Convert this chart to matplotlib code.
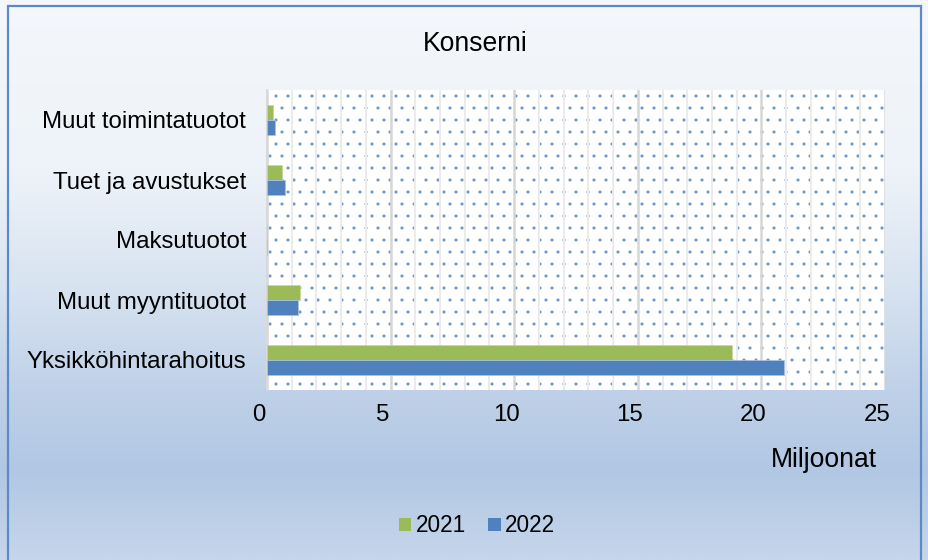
import numpy as np
import matplotlib
matplotlib.use("Agg")
import matplotlib.pyplot as plt
import matplotlib.transforms as mtransforms
from matplotlib.colors import LinearSegmentedColormap
from matplotlib.patches import Rectangle, Patch

plt.rcParams['font.family'] = ['Liberation Sans', 'DejaVu Sans']
plt.rcParams['hatch.linewidth'] = 0.6

# data (bottom -> top, as in the chart)
categories = ['Yksikköhintarahoitus', 'Muut myyntituotot', 'Maksutuotot',
              'Tuet ja avustukset', 'Muut toimintatuotot']
v2021 = [18.8, 1.34, 0.0, 0.61, 0.26]
v2022 = [20.9, 1.25, 0.0, 0.74, 0.34]
years = ['2021', '2022']
xticks = [0, 5, 10, 15, 20, 25]

green = '#9BBB59'
blue = '#4F81BD'

DPI = 72
fig = plt.figure(figsize=(928 / DPI, 560 / DPI), dpi=DPI)

# background gradient over the whole figure
bg = fig.add_axes([0, 0, 1, 1], zorder=-10)
bg.set_axis_off()
cmap = LinearSegmentedColormap.from_list('bg', [
    (0.0, '#F4F7FB'), (0.30, '#EEF3F9'), (0.50, '#D9E4F1'),
    (0.70, '#BFD1E8'), (0.84, '#B1C7E3'), (1.0, '#C6D6EB')])
grad = np.linspace(0, 1, 256).reshape(-1, 1)
bg.imshow(grad, aspect='auto', cmap=cmap, extent=[0, 1, 0, 1], origin='upper')
bg.set_xlim(0, 1)
bg.set_ylim(0, 1)
bg.add_patch(Rectangle((8 / 928, -0.05), (921 - 8) / 928, 1.05 - 6 / 560,
                       transform=bg.transAxes, fill=False,
                       edgecolor='#5B8ACB', lw=2.2))

# plot area
L, R, T, B = 267, 885, 90, 390
ax = fig.add_axes([L / 928, 1 - B / 560, (R - L) / 928, (B - T) / 560])
ax.set_facecolor('white')
ax.add_patch(Rectangle((0, 0), 1, 1, transform=ax.transAxes, facecolor='white',
                       hatch='.', edgecolor='#6A94C8', lw=0, zorder=0))

y = np.arange(len(categories))
h = 0.25
ax.barh(y + h / 2, v2021, height=h, color=green, edgecolor='#C5DA9A', lw=0.8, zorder=3)
ax.barh(y - h / 2, v2022, height=h, color=blue, edgecolor='#A9C2E2', lw=0.8, zorder=3)

ax.set_xlim(0, 25)
ax.set_ylim(-0.5, len(categories) - 0.5)
ax.set_xticks(xticks)
ax.set_xticks(np.arange(0, 26, 1), minor=True)
ax.grid(axis='x', which='minor', color='#EBEBEB', lw=2, zorder=1)
ax.grid(axis='x', which='major', color='#D6D6D6', lw=2.5, zorder=1)
ax.set_axisbelow(True)
ax.set_yticks(y)
ax.set_yticklabels(categories)
ax.tick_params(axis='both', which='both', length=0, labelsize=24)
ax.tick_params(axis='x', pad=14)
ax.tick_params(axis='y', pad=21)
off = mtransforms.ScaledTranslation(-8 / DPI, 0, fig.dpi_scale_trans)
for lab in ax.get_xticklabels():
    lab.set_transform(lab.get_transform() + off)
for s in ['top', 'right', 'bottom']:
    ax.spines[s].set_visible(False)
ax.spines['left'].set_color('#D9D9D9')
ax.spines['left'].set_linewidth(2)

fig.text(475 / 928, 1 - 44 / 560, 'Konserni', fontsize=26.5, ha='center', va='center')
fig.text(824 / 928, 1 - 460 / 560, 'Miljoonat', fontsize=26.5, ha='center', va='center')

handles = [Patch(facecolor=green), Patch(facecolor=blue)]
fig.legend(handles, years, loc='center', bbox_to_anchor=(477 / 928, 1 - 526 / 560),
           ncol=2, frameon=False, fontsize=22.5, handlelength=0.55, handleheight=0.55,
           handletextpad=0.2, columnspacing=1.0)

fig.savefig('out.png', dpi=DPI)
